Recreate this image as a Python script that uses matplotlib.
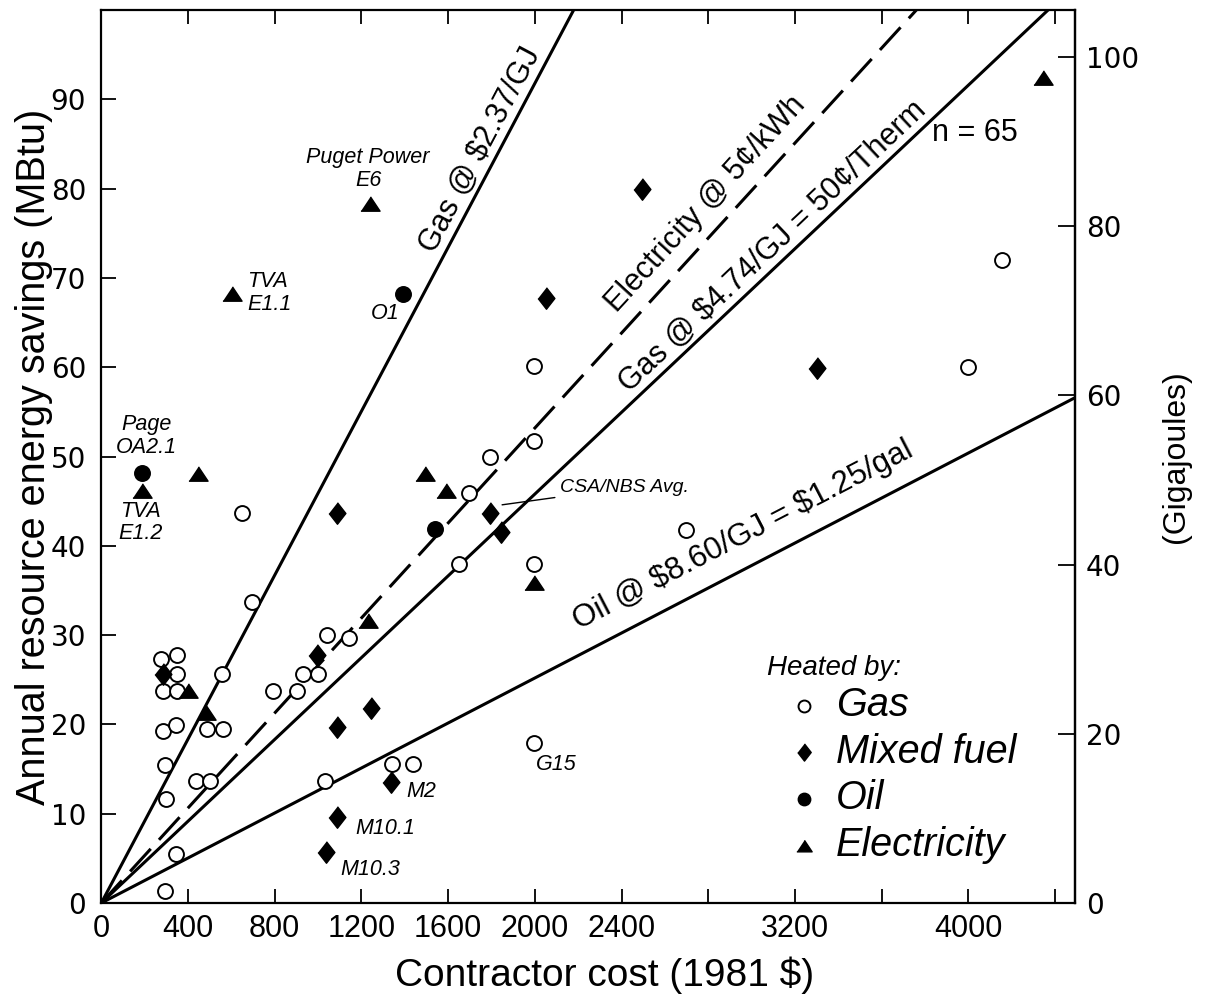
import numpy as np
import matplotlib
matplotlib.use("Agg")
import matplotlib.pyplot as plt

# ===============================
# data
# ===============================
gas_cost = [294, 345, 300, 294, 283, 345, 283, 348, 348, 275, 348, 557, 489, 560,
            437, 502, 651, 697, 791, 902, 932, 999, 1040, 1143, 1032, 1340, 1440,
            1651, 1695, 1791, 1994, 1997, 1994, 1994, 2698, 3998, 4155]
gas_sav = [1.4, 5.5, 11.7, 15.5, 19.3, 19.9, 23.8, 23.7, 25.6, 27.3, 27.8, 25.7, 19.5, 19.5,
           13.7, 13.7, 43.7, 33.7, 23.7, 23.7, 25.7, 25.7, 30.0, 29.7, 13.7, 15.6, 15.6,
           38.0, 45.9, 50.0, 60.1, 51.8, 38.0, 17.9, 41.8, 60.0, 72.0]

mixed_cost = [286, 994, 1089, 1089, 1243, 1089, 1037, 1337, 1794, 1845, 2051, 2494, 3301]
mixed_sav = [25.6, 27.8, 43.7, 19.7, 21.8, 9.6, 5.75, 13.6, 43.7, 41.6, 67.8, 80.0, 59.9]

oil_cost = [186, 1394, 1540]
oil_sav = [48.2, 68.2, 41.9]

elec_cost = [189, 445, 602, 1240, 401, 483, 1232, 1494, 1589, 1994, 4346]
elec_sav = [46.2, 48.1, 68.2, 78.3, 23.8, 21.3, 31.6, 48.0, 46.2, 35.8, 92.4]

# reference price lines (MBtu saved per 1981 $)
line_labels = ["Gas @ \\$2.37/GJ", "Electricity @ 5¢/kWh",
               "Gas @ \\$4.74/GJ = 50¢/Therm", "Oil @ \\$8.60/GJ = \\$1.25/gal"]
line_slopes = [0.0459, 0.0266, 0.0229, 0.0126]
line_styles = ["-", (0, (10, 4)), "-", "-"]
label_pos = [(1748, 84.3), (2790, 78.3), (3100, 73.5), (2960, 41.2)]
label_size = [22, 22, 22, 22.5]

# point annotations
note_text = ["Page\nOA2.1", "TVA\nE1.2", "TVA\nE1.1", "Puget Power\nE6", "O1",
             "M2", "M10.1", "M10.3", "G15"]
note_xy = [(209, 52.3), (179, 42.6), (672, 68.3), (1231, 82.2), (1308, 66.0),
           (1478, 12.5), (1309, 8.3), (1240, 3.7), (2101, 15.5)]
note_ha = ["center", "center", "left", "center", "center",
           "center", "center", "center", "center"]

legend_names = ["Gas", "Mixed fuel", "Oil", "Electricity"]

xticks = np.arange(0, 4401, 400)
xtick_lab = ["0", "400", "800", "1200", "1600", "2000", "2400", "", "3200", "", "4000", ""]
yticks = np.arange(0, 91, 10)
gj_ticks = np.arange(0, 101, 20)

XMAX, YMAX = 4490, 100
GJ_PER_MBTU = 1.055

# ===============================
# figure
# ===============================
plt.rcParams["font.family"] = ["Liberation Sans", "DejaVu Sans"]

fig = plt.figure(figsize=(12.06, 10.02), dpi=100)
ax = fig.add_axes([0.084, 0.0988, 0.807, 0.891])

# price lines
xl = np.array([0, XMAX])
for lab, s, ls, (tx, ty), fs in zip(line_labels, line_slopes, line_styles,
                                     label_pos, label_size):
    ax.plot(xl, s * xl, color="black", lw=2.2, ls=ls, zorder=2,
            solid_capstyle="butt", dash_capstyle="butt")
    ax.text(tx, ty, lab, fontsize=fs, ha="center", va="center",
            rotation=np.degrees(np.arctan(s)), rotation_mode="anchor",
            transform_rotates_text=True, zorder=3)

diamond = [(0, 1), (0.78, 0), (0, -1), (-0.78, 0)]
tri = [(0, 0.8), (1, -0.7), (-1, -0.7)]

h_gas = ax.scatter(gas_cost, gas_sav, s=115, marker="o", facecolor="white",
                   edgecolor="black", linewidths=1.4, zorder=4)
h_mix = ax.scatter(mixed_cost, mixed_sav, s=240, marker=diamond, color="black",
                   zorder=4)
h_oil = ax.scatter(oil_cost, oil_sav, s=125, marker="o", color="black", zorder=4)
h_ele = ax.scatter(elec_cost, elec_sav, s=190, marker=tri, color="black", zorder=4)

for t, (nx, ny), ha in zip(note_text, note_xy, note_ha):
    ax.text(nx, ny, t, fontsize=15.5, style="italic", ha=ha, va="center",
            linespacing=1.1, zorder=5)

ax.annotate("CSA/NBS Avg.", xy=(1849, 44.6), xytext=(2118, 46.5),
            fontsize=14, style="italic", va="center", ha="left",
            arrowprops=dict(arrowstyle="-", lw=1, color="black",
                            shrinkA=2, shrinkB=0))

ax.text(4030, 86.3, "n = 65", fontsize=22, ha="center", va="center")

# legend
ax.text(0.684, 0.263, "Heated by:", transform=ax.transAxes, fontsize=20,
        style="italic", ha="left", va="center")
ax.legend([h_gas, h_mix, h_oil, h_ele], legend_names,
          loc="upper left", bbox_to_anchor=(0.70, 0.243), frameon=False,
          prop=dict(style="italic", size=28.5),
          markerscale=0.8, handletextpad=0.25, labelspacing=0.22,
          borderpad=0, borderaxespad=0, handlelength=1.1)

# axes
ax.set_xlim(0, XMAX)
ax.set_ylim(0, YMAX)
ax.set_xticks(xticks)
ax.set_xticklabels(xtick_lab, fontsize=22)
ax.set_yticks(yticks)
ax.set_yticklabels([str(v) for v in yticks], fontsize=20, family="DejaVu Sans")
ax.tick_params(axis="x", direction="in", length=10, width=1.3, top=True, pad=8)
ax.tick_params(axis="y", direction="in", length=11, width=1.3, pad=11)
for sp in ax.spines.values():
    sp.set_linewidth(1.6)

ax.set_xlabel("Contractor cost (1981 $)", fontsize=28)
ax.xaxis.set_label_coords(0.517, -0.06)
ax.set_ylabel("Annual resource energy savings (MBtu)", fontsize=28.5)
ax.yaxis.set_label_coords(-0.05, 0.5)

ax2 = ax.secondary_yaxis("right", functions=(lambda m: m * GJ_PER_MBTU,
                                              lambda g: g / GJ_PER_MBTU))
ax2.set_yticks(gj_ticks)
ax2.set_yticklabels([str(v) for v in gj_ticks], fontsize=20, family="DejaVu Sans")
ax2.tick_params(direction="in", length=12, width=1.3, pad=8)
ax2.spines["right"].set_linewidth(1.6)
ax2.set_ylabel("(Gigajoules)", fontsize=23, labelpad=16)

fig.savefig("out.png", dpi=100)
